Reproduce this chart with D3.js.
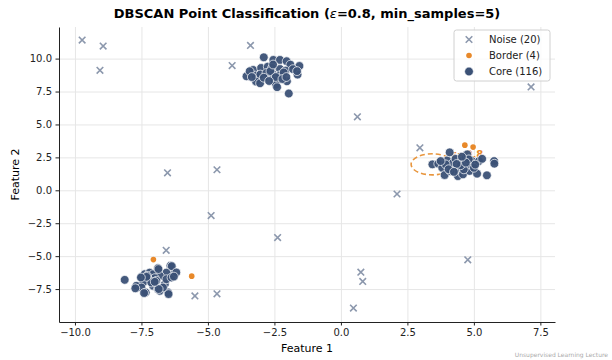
<!DOCTYPE html>
<html>
<head>
<meta charset="utf-8">
<script src="https://cdn.jsdelivr.net/npm/d3@7"></script>
<style>
  body { margin: 0; background: #fff; }
  text { font-family: "DejaVu Sans", sans-serif; }
  .grid line { stroke: #e6e6e6; stroke-width: 1; }
  .grid path { display: none; }
  .axis text { font-size: 10px; fill: #222; }
  .axis path, .axis line { stroke: #222; }
</style>
</head>
<body>
<div id="chart"></div>
<script>
// Data
var noisePoints = [
  [-9.73, 11.41], [-8.94, 10.95], [-9.06, 9.11], [-3.40, 11.00], [-4.09, 9.47],
  [-6.52, 1.33], [-4.66, 1.56], [-4.88, -1.92], [-2.38, -3.59], [-6.57, -4.56],
  [-5.49, -8.02], [-4.66, -7.86], [0.62, 5.58], [2.97, 3.23], [2.11, -0.28],
  [7.15, 7.85], [4.77, -5.28], [0.75, -6.22], [0.82, -6.92], [0.47, -8.94]
];

var borderPoints = [
  [-7.05, -5.26], [-5.61, -6.52], [4.66, 3.43], [4.97, 3.28]
];

var corePoints = [
  // top cluster
  [-2.90, 10.10], [-2.54, 9.90], [-2.29, 9.90], [-2.04, 9.80], [-1.90, 9.54],
  [-1.56, 9.44], [-3.30, 9.14], [-3.00, 9.29], [-2.75, 9.39], [-2.59, 9.29],
  [-2.29, 9.21], [-2.08, 9.09], [-1.63, 8.79], [-3.55, 8.66], [-3.21, 8.71],
  [-3.03, 8.79], [-2.80, 8.91], [-2.56, 8.83], [-2.31, 8.73], [-3.19, 8.26],
  [-3.04, 8.13], [-2.50, 8.33], [-2.44, 8.03], [-2.03, 8.28], [-2.40, 7.83],
  [-1.96, 7.35], [-3.43, 9.04], [-2.65, 9.05], [-2.45, 8.60], [-2.90, 8.55],
  [-2.15, 8.95], [-1.80, 9.20], [-2.70, 8.30], [-2.20, 8.45], [-3.35, 8.60],
  [-2.05, 8.60], [-1.65, 9.05], [-2.55, 9.55],
  // bottom-left cluster
  [-8.13, -6.80], [-7.50, -6.57], [-7.38, -6.37], [-7.19, -6.25], [-7.06, -6.37],
  [-6.88, -5.91], [-6.41, -5.73], [-6.31, -6.37], [-6.56, -6.25], [-6.81, -6.49],
  [-7.00, -6.67], [-7.25, -6.75], [-7.44, -7.00], [-7.69, -7.25], [-7.50, -7.38],
  [-7.34, -7.76], [-7.06, -7.25], [-6.88, -7.50], [-6.81, -7.63], [-6.62, -7.12],
  [-6.50, -7.76], [-6.69, -7.38], [-7.13, -7.00], [-7.29, -6.49], [-6.56, -6.75],
  [-6.37, -6.62], [-6.94, -6.87], [-7.73, -7.44], [-7.40, -7.80], [-6.48, -7.88],
  [-6.85, -7.50], [-6.36, -5.76], [-6.19, -6.24], [-6.28, -6.55], [-6.86, -5.98],
  [-7.31, -6.57], [-7.52, -6.62], [-7.00, -6.95],
  // right cluster
  [3.44, 1.97], [3.66, 2.02], [3.81, 1.71], [3.90, 1.16], [4.00, 2.27],
  [4.09, 2.88], [4.16, 1.79], [4.22, 2.09], [4.31, 2.39], [4.40, 1.08],
  [4.44, 1.59], [4.54, 2.22], [4.59, 1.21], [4.65, 1.79], [4.69, 2.47],
  [4.75, 2.73], [4.77, 1.92], [4.84, 1.47], [4.93, 2.22], [5.12, 1.26],
  [5.19, 2.22], [5.31, 2.39], [5.49, 1.14], [5.76, 2.22], [5.77, 2.02],
  [4.31, 1.59], [4.12, 1.46], [3.94, 1.97], [3.75, 2.22], [4.87, 1.97],
  [4.62, 1.59], [5.00, 1.71], [4.81, 2.35], [4.50, 1.90], [4.35, 2.00],
  [4.70, 2.10], [4.05, 1.60], [5.05, 1.95], [4.25, 1.40], [4.55, 2.55]
];

var xTicks = [-10, -7.5, -5, -2.5, 0, 2.5, 5, 7.5];
var yTicks = [-7.5, -5, -2.5, 0, 2.5, 5, 7.5, 10];
var legendLabels = ["Noise (20)", "Border (4)", "Core (116)"];
var eps = 0.8;
var epsCenter = [3.44, 1.97];

// Set up chart area
var svgWidth = 612;
var svgHeight = 360;

var margin = { top: 27, right: 57, bottom: 38, left: 59 };
var width = svgWidth - margin.left - margin.right;
var height = svgHeight - margin.top - margin.bottom;

var noiseColor = "#8c98ad";
var borderColor = "#e8892a";
var coreColor = "#3b5176";

var svg = d3.select("#chart")
  .append("svg")
  .attr("width", svgWidth)
  .attr("height", svgHeight);

var chartGroup = svg.append("g")
  .attr("transform", `translate(${margin.left}, ${margin.top})`);

// Scales
var xScale = d3.scaleLinear().domain([-10.6, 8.05]).range([0, width]);
var yScale = d3.scaleLinear().domain([-10.0, 12.4]).range([height, 0]);

// Grid
chartGroup.append("g")
  .attr("class", "grid")
  .attr("transform", `translate(0, ${height})`)
  .call(d3.axisBottom(xScale).tickValues(xTicks).tickSize(-height).tickFormat(""));

chartGroup.append("g")
  .attr("class", "grid")
  .call(d3.axisLeft(yScale).tickValues(yTicks).tickSize(-width).tickFormat(""));

// Axes
var fmt = d3.format(".1f");
chartGroup.append("g")
  .attr("class", "axis")
  .attr("transform", `translate(0, ${height})`)
  .call(d3.axisBottom(xScale).tickValues(xTicks).tickSizeInner(3.5).tickSizeOuter(0).tickPadding(3.5).tickFormat(fmt));

chartGroup.append("g")
  .attr("class", "axis")
  .call(d3.axisLeft(yScale).tickValues(yTicks).tickSizeInner(3.5).tickSizeOuter(0).tickPadding(3.5).tickFormat(fmt));

// eps neighbourhood
chartGroup.append("ellipse")
  .attr("cx", xScale(epsCenter[0]))
  .attr("cy", yScale(epsCenter[1]))
  .attr("rx", xScale(eps) - xScale(0))
  .attr("ry", yScale(0) - yScale(eps))
  .attr("fill", "none")
  .attr("stroke", "#e8963e")
  .attr("stroke-width", 1.6)
  .attr("stroke-dasharray", "5,3");

chartGroup.append("text")
  .attr("x", xScale(epsCenter[0] + 0.72))
  .attr("y", yScale(epsCenter[1] + 0.5))
  .attr("fill", "#e8892a")
  .style("font-size", "10px")
  .style("font-weight", "bold")
  .text("\u03b5=" + eps);

// Noise (x markers)
var xs = 3.3;
chartGroup.selectAll(".noise")
  .data(noisePoints)
  .enter()
  .append("path")
  .attr("class", "noise")
  .attr("transform", d => `translate(${xScale(d[0])}, ${yScale(d[1])})`)
  .attr("d", `M${-xs},${-xs}L${xs},${xs}M${-xs},${xs}L${xs},${-xs}`)
  .attr("stroke", noiseColor)
  .attr("stroke-width", 1.6);

// Border points
chartGroup.selectAll(".border")
  .data(borderPoints)
  .enter()
  .append("circle")
  .attr("class", "border")
  .attr("cx", d => xScale(d[0]))
  .attr("cy", d => yScale(d[1]))
  .attr("r", 2.8)
  .attr("fill", borderColor);

// Core points
chartGroup.selectAll(".core")
  .data(corePoints)
  .enter()
  .append("circle")
  .attr("class", "core")
  .attr("cx", d => xScale(d[0]))
  .attr("cy", d => yScale(d[1]))
  .attr("r", 4.4)
  .attr("fill", coreColor)
  .attr("fill-opacity", 0.95)
  .attr("stroke", "#fff")
  .attr("stroke-width", 0.7);

// Title and axis labels
var title = svg.append("text")
  .attr("x", margin.left + width / 2)
  .attr("y", 18)
  .attr("text-anchor", "middle")
  .style("font-size", "13px")
  .style("font-weight", "bold");
title.append("tspan").text("DBSCAN Point Classification (");
title.append("tspan").style("font-style", "italic").style("font-weight", "normal").text("\u03b5");
title.append("tspan").text("=0.8, min_samples=5)");

svg.append("text")
  .attr("x", margin.left + width / 2)
  .attr("y", 352)
  .attr("text-anchor", "middle")
  .style("font-size", "11px")
  .text("Feature 1");

svg.append("text")
  .attr("transform", "rotate(-90)")
  .attr("x", -(margin.top + height / 2))
  .attr("y", 19)
  .attr("text-anchor", "middle")
  .style("font-size", "11px")
  .text("Feature 2");

// Legend
var legend = svg.append("g").attr("transform", "translate(454, 30)");
legend.append("rect")
  .attr("width", 96)
  .attr("height", 51)
  .attr("rx", 2.5)
  .attr("fill", "#fff")
  .attr("fill-opacity", 0.8)
  .attr("stroke", "#d0d0d0");

legendLabels.forEach(function(label, i) {
  var ly = 9.5 + i * 16;
  var row = legend.append("g").attr("transform", `translate(15, ${ly})`);
  if (i === 0) {
    row.append("path")
      .attr("d", `M${-xs},${-xs}L${xs},${xs}M${-xs},${xs}L${xs},${-xs}`)
      .attr("stroke", noiseColor)
      .attr("stroke-width", 1.6);
  } else if (i === 1) {
    row.append("circle").attr("r", 2.8).attr("fill", borderColor);
  } else {
    row.append("circle").attr("r", 4.4).attr("fill", coreColor)
      .attr("stroke", "#fff").attr("stroke-width", 0.7);
  }
  row.append("text")
    .attr("x", 20)
    .attr("dy", "0.35em")
    .style("font-size", "10px")
    .attr("fill", "#222")
    .text(label);
});

// Footer
svg.append("text")
  .attr("x", 608)
  .attr("y", 357)
  .attr("text-anchor", "end")
  .attr("fill", "#aaa")
  .style("font-size", "6px")
  .text("Unsupervised Learning Lecture");
</script>
</body>
</html>
